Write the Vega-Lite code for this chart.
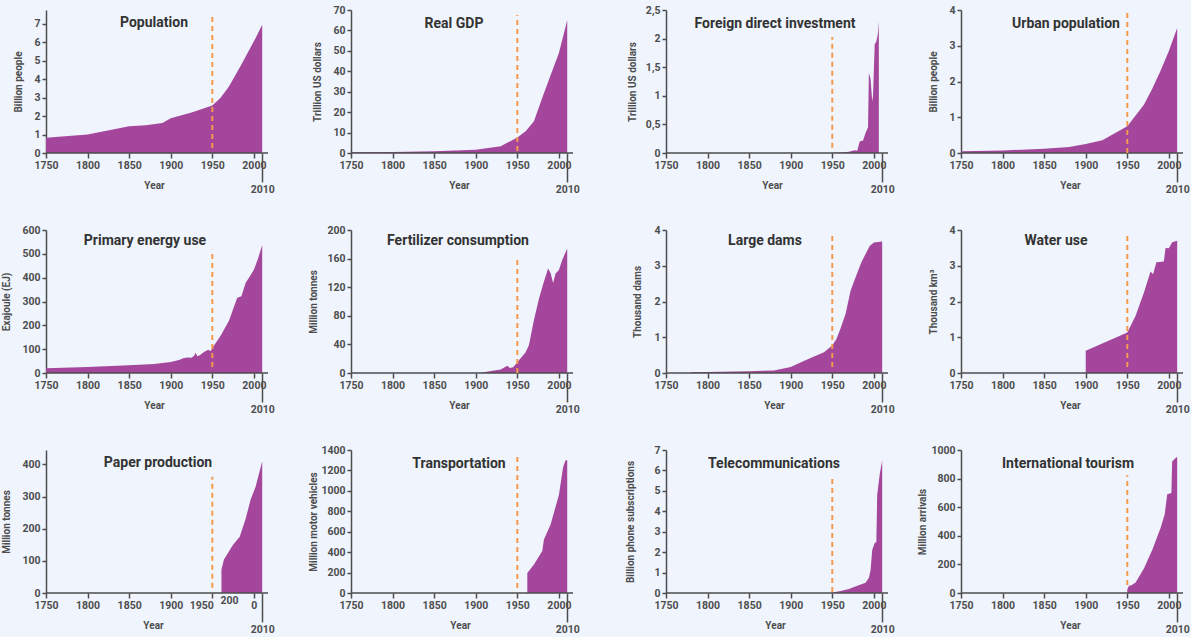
{
  "$schema": "https://vega.github.io/schema/vega-lite/v6.json",
  "background": "#eff4fd",
  "padding": {"left": 1, "top": 5, "right": 2, "bottom": 2},
  "datasets": {
    "pop": [{"year":1750,"value":0.82},{"year":1800,"value":1.0},{"year":1850,"value":1.45},{"year":1870,"value":1.5},{"year":1890,"value":1.62},{"year":1900,"value":1.88},{"year":1925,"value":2.2},{"year":1950,"value":2.58},{"year":1960,"value":3.0},{"year":1970,"value":3.6},{"year":1985,"value":4.8},{"year":2000,"value":6.05},{"year":2010,"value":6.95}],
    "gdp": [{"year":1750,"value":0.4},{"year":1800,"value":0.5},{"year":1850,"value":0.8},{"year":1900,"value":1.6},{"year":1930,"value":3.3},{"year":1950,"value":7.6},{"year":1960,"value":10.6},{"year":1970,"value":15.5},{"year":1980,"value":27},{"year":1990,"value":38},{"year":2000,"value":49},{"year":2010,"value":65}],
    "fdi": [{"year":1950,"value":0.005},{"year":1960,"value":0.01},{"year":1970,"value":0.02},{"year":1977,"value":0.05},{"year":1980,"value":0.04},{"year":1983,"value":0.2},{"year":1987,"value":0.22},{"year":1990,"value":0.35},{"year":1993,"value":0.45},{"year":1994,"value":1.4},{"year":1996,"value":1.3},{"year":1998,"value":0.9},{"year":1999,"value":1.0},{"year":2001,"value":1.9},{"year":2003,"value":1.95},{"year":2005,"value":2.1},{"year":2006,"value":2.3}],
    "urban": [{"year":1750,"value":0.05},{"year":1800,"value":0.07},{"year":1850,"value":0.12},{"year":1880,"value":0.17},{"year":1900,"value":0.25},{"year":1920,"value":0.36},{"year":1950,"value":0.75},{"year":1960,"value":1.05},{"year":1970,"value":1.35},{"year":1980,"value":1.8},{"year":1990,"value":2.3},{"year":2000,"value":2.85},{"year":2010,"value":3.5}],
    "energy": [{"year":1750,"value":20},{"year":1800,"value":25},{"year":1850,"value":32},{"year":1880,"value":38},{"year":1900,"value":46},{"year":1910,"value":55},{"year":1915,"value":62},{"year":1920,"value":65},{"year":1925,"value":64},{"year":1928,"value":72},{"year":1930,"value":85},{"year":1932,"value":70},{"year":1935,"value":75},{"year":1940,"value":88},{"year":1945,"value":98},{"year":1948,"value":92},{"year":1950,"value":105},{"year":1960,"value":156},{"year":1970,"value":219},{"year":1980,"value":316},{"year":1985,"value":322},{"year":1990,"value":378},{"year":1995,"value":405},{"year":2000,"value":433},{"year":2005,"value":480},{"year":2010,"value":537}],
    "fert": [{"year":1905,"value":0},{"year":1910,"value":1},{"year":1920,"value":3},{"year":1930,"value":5},{"year":1938,"value":10},{"year":1941,"value":7},{"year":1945,"value":8},{"year":1950,"value":15},{"year":1955,"value":22},{"year":1960,"value":29},{"year":1964,"value":39},{"year":1970,"value":74},{"year":1976,"value":104},{"year":1982,"value":128},{"year":1987,"value":146},{"year":1990,"value":140},{"year":1993,"value":126},{"year":1996,"value":139},{"year":2000,"value":144},{"year":2004,"value":158},{"year":2010,"value":174}],
    "dams": [{"year":1780,"value":0.02},{"year":1800,"value":0.03},{"year":1850,"value":0.05},{"year":1880,"value":0.07},{"year":1900,"value":0.17},{"year":1917,"value":0.35},{"year":1940,"value":0.58},{"year":1950,"value":0.77},{"year":1955,"value":0.95},{"year":1960,"value":1.25},{"year":1966,"value":1.66},{"year":1972,"value":2.3},{"year":1978,"value":2.68},{"year":1985,"value":3.1},{"year":1990,"value":3.33},{"year":1995,"value":3.55},{"year":2000,"value":3.65},{"year":2010,"value":3.68}],
    "water": [{"year":1900,"value":0.62},{"year":1950,"value":1.13},{"year":1960,"value":1.6},{"year":1970,"value":2.25},{"year":1978,"value":2.84},{"year":1981,"value":2.76},{"year":1985,"value":3.1},{"year":1994,"value":3.12},{"year":1996,"value":3.5},{"year":2000,"value":3.49},{"year":2004,"value":3.66},{"year":2010,"value":3.7}],
    "paper": [{"year":1961,"value":73},{"year":1964,"value":104},{"year":1969,"value":125},{"year":1975,"value":150},{"year":1983,"value":175},{"year":1990,"value":230},{"year":1996,"value":290},{"year":2002,"value":330},{"year":2010,"value":410}],
    "transport": [{"year":1962,"value":195},{"year":1970,"value":280},{"year":1980,"value":410},{"year":1982,"value":525},{"year":1990,"value":670},{"year":2000,"value":960},{"year":2005,"value":1230},{"year":2008,"value":1300},{"year":2010,"value":1300}],
    "telecom": [{"year":1950,"value":0.02},{"year":1960,"value":0.1},{"year":1970,"value":0.2},{"year":1980,"value":0.36},{"year":1990,"value":0.5},{"year":1994,"value":0.75},{"year":1996,"value":1.1},{"year":1998,"value":2.1},{"year":2001,"value":2.45},{"year":2003,"value":2.5},{"year":2004,"value":4.8},{"year":2007,"value":5.8},{"year":2010,"value":6.5}],
    "tourism": [{"year":1950,"value":25},{"year":1952,"value":50},{"year":1955,"value":55},{"year":1960,"value":73},{"year":1970,"value":172},{"year":1980,"value":300},{"year":1990,"value":454},{"year":1995,"value":550},{"year":1998,"value":690},{"year":2003,"value":700},{"year":2004,"value":920},{"year":2009,"value":950},{"year":2010,"value":950}]
  },
  "columns": 4,
  "align": "each",
  "bounds": "flush",
  "spacing": {"row": 77, "column": 73},
  "concat": [
    {"width":232,"height":143,"title":{"text":"Population","dx":-8,"offset":-20},"layer":[
      {"data":{"name":"pop"},"mark":{"type":"area","color":"#a4479c"},"encoding":{"x":{"field":"year","type":"quantitative","scale":{"domain":[1750,2029],"nice":false},"axis":{"title":"Year","values":[1750,1800,1850,1900,1950,2000,2010],"tickCount":50,"format":"d","domain":false,"labelFlush":false,"tickSize":{"condition":{"test":"datum.value == 2010","value":29},"value":5},"titleX":108,"titleY":27,"titleAlign":"center","titleBaseline":"top"}},"y":{"field":"value","type":"quantitative","scale":{"domain":[0,7.75],"nice":false},"axis":{"title":"Billion people","values":[0,1,2,3,4,5,6,7],"format":"d","tickCount":50,"minExtent":21,"maxExtent":21}}}},
      {"data":{"values":[{"year":1750,"year2":2017,"value":0}]},"mark":{"type":"rule","color":"#4d4d4d","strokeWidth":1.5},"encoding":{"x":{"field":"year","type":"quantitative"},"x2":{"field":"year2"},"y":{"field":"value","type":"quantitative"}}},
      {"data":{"values":[{"year":1950,"lo":0.27,"hi":7.54}]},"mark":{"type":"rule","color":"#f39a4b","strokeDash":[5,4],"strokeWidth":2},"encoding":{"x":{"field":"year","type":"quantitative"},"y":{"field":"lo","type":"quantitative"},"y2":{"field":"hi"}}}
    ]},
    {"width":242,"height":143,"title":{"text":"Real GDP","dx":-18},"layer":[
      {"data":{"name":"gdp"},"mark":{"type":"area","color":"#a4479c"},"encoding":{"x":{"field":"year","type":"quantitative","scale":{"domain":[1750,2041],"nice":false},"axis":{"title":"Year","values":[1750,1800,1850,1900,1950,2000,2010],"tickCount":50,"format":"d","domain":false,"labelFlush":false,"tickSize":{"condition":{"test":"datum.value == 2010","value":29},"value":5},"titleX":108,"titleY":27,"titleAlign":"center","titleBaseline":"top"}},"y":{"field":"value","type":"quantitative","scale":{"domain":[0,70],"nice":false},"axis":{"title":"Trillion US dollars","values":[0,10,20,30,40,50,60,70],"format":"d","tickCount":50,"minExtent":27,"maxExtent":27}}}},
      {"data":{"values":[{"year":1750,"year2":2017,"value":0}]},"mark":{"type":"rule","color":"#4d4d4d","strokeWidth":1.5},"encoding":{"x":{"field":"year","type":"quantitative"},"x2":{"field":"year2"},"y":{"field":"value","type":"quantitative"}}},
      {"data":{"values":[{"year":1950,"lo":1,"hi":67.5}]},"mark":{"type":"rule","color":"#f39a4b","strokeDash":[5,4],"strokeWidth":2},"encoding":{"x":{"field":"year","type":"quantitative"},"y":{"field":"lo","type":"quantitative"},"y2":{"field":"hi"}}}
    ]},
    {"width":222,"height":143,"title":{"text":"Foreign direct investment","dx":-2},"layer":[
      {"data":{"name":"fdi"},"mark":{"type":"area","color":"#a4479c"},"encoding":{"x":{"field":"year","type":"quantitative","scale":{"domain":[1750,2017],"nice":false},"axis":{"title":"Year","values":[1750,1800,1850,1900,1950,2000,2010],"tickCount":50,"format":"d","domain":false,"labelFlush":false,"tickSize":{"condition":{"test":"datum.value == 2010","value":29},"value":5},"titleX":106,"titleY":27,"titleAlign":"center","titleBaseline":"top"}},"y":{"field":"value","type":"quantitative","scale":{"domain":[0,2.5],"nice":false},"axis":{"title":"Trillion US dollars","values":[0,0.5,1,1.5,2,2.5],"tickCount":50,"labelExpr":"replace(format(datum.value, '~g'), '.', ',')","minExtent":27,"maxExtent":27}}}},
      {"data":{"values":[{"year":1750,"year2":2017,"value":0}]},"mark":{"type":"rule","color":"#4d4d4d","strokeWidth":1.5},"encoding":{"x":{"field":"year","type":"quantitative"},"x2":{"field":"year2"},"y":{"field":"value","type":"quantitative"}}},
      {"data":{"values":[{"year":1950,"lo":0.09,"hi":2.03}]},"mark":{"type":"rule","color":"#f39a4b","strokeDash":[5,4],"strokeWidth":2},"encoding":{"x":{"field":"year","type":"quantitative"},"y":{"field":"lo","type":"quantitative"},"y2":{"field":"hi"}}}
    ]},
    {"width":222,"height":143,"title":{"text":"Urban population","dx":-6},"layer":[
      {"data":{"name":"urban"},"mark":{"type":"area","color":"#a4479c"},"encoding":{"x":{"field":"year","type":"quantitative","scale":{"domain":[1750,2017],"nice":false},"axis":{"title":"Year","values":[1750,1800,1850,1900,1950,2000,2010],"tickCount":50,"format":"d","domain":false,"labelFlush":false,"tickSize":{"condition":{"test":"datum.value == 2010","value":29},"value":5},"titleX":109,"titleY":27,"titleAlign":"center","titleBaseline":"top"}},"y":{"field":"value","type":"quantitative","scale":{"domain":[0,4],"nice":false},"axis":{"title":"Billion people","values":[0,1,2,3,4],"format":"d","tickCount":50,"minExtent":21,"maxExtent":21}}}},
      {"data":{"values":[{"year":1750,"year2":2017,"value":0}]},"mark":{"type":"rule","color":"#4d4d4d","strokeWidth":1.5},"encoding":{"x":{"field":"year","type":"quantitative"},"x2":{"field":"year2"},"y":{"field":"value","type":"quantitative"}}},
      {"data":{"values":[{"year":1950,"lo":0,"hi":3.92}]},"mark":{"type":"rule","color":"#f39a4b","strokeDash":[5,4],"strokeWidth":2},"encoding":{"x":{"field":"year","type":"quantitative"},"y":{"field":"lo","type":"quantitative"},"y2":{"field":"hi"}}}
    ]},
    {"width":232,"height":143,"title":{"text":"Primary energy use","dx":-17,"offset":-23},"layer":[
      {"data":{"name":"energy"},"mark":{"type":"area","color":"#a4479c"},"encoding":{"x":{"field":"year","type":"quantitative","scale":{"domain":[1750,2029],"nice":false},"axis":{"title":"Year","values":[1750,1800,1850,1900,1950,2000,2010],"tickCount":50,"format":"d","domain":false,"labelFlush":false,"tickSize":{"condition":{"test":"datum.value == 2010","value":29},"value":5},"titleX":108,"titleY":27,"titleAlign":"center","titleBaseline":"top"}},"y":{"field":"value","type":"quantitative","scale":{"domain":[0,600],"nice":false},"axis":{"title":"Exajoule (EJ)","values":[0,100,200,300,400,500,600],"format":"d","tickCount":50,"minExtent":33,"maxExtent":33}}}},
      {"data":{"values":[{"year":1750,"year2":2017,"value":0}]},"mark":{"type":"rule","color":"#4d4d4d","strokeWidth":1.5},"encoding":{"x":{"field":"year","type":"quantitative"},"x2":{"field":"year2"},"y":{"field":"value","type":"quantitative"}}},
      {"data":{"values":[{"year":1950,"lo":25,"hi":517}]},"mark":{"type":"rule","color":"#f39a4b","strokeDash":[5,4],"strokeWidth":2},"encoding":{"x":{"field":"year","type":"quantitative"},"y":{"field":"lo","type":"quantitative"},"y2":{"field":"hi"}}}
    ]},
    {"width":242,"height":143,"title":{"text":"Fertilizer consumption","dx":-14,"offset":-23},"layer":[
      {"data":{"name":"fert"},"mark":{"type":"area","color":"#a4479c"},"encoding":{"x":{"field":"year","type":"quantitative","scale":{"domain":[1750,2041],"nice":false},"axis":{"title":"Year","values":[1750,1800,1850,1900,1950,2000,2010],"tickCount":50,"format":"d","domain":false,"labelFlush":false,"tickSize":{"condition":{"test":"datum.value == 2010","value":29},"value":5},"titleX":108,"titleY":27,"titleAlign":"center","titleBaseline":"top"}},"y":{"field":"value","type":"quantitative","scale":{"domain":[0,200],"nice":false},"axis":{"title":"Million tonnes","values":[0,40,80,120,160,200],"format":"d","tickCount":50,"minExtent":31,"maxExtent":31}}}},
      {"data":{"values":[{"year":1750,"year2":2017,"value":0}]},"mark":{"type":"rule","color":"#4d4d4d","strokeWidth":1.5},"encoding":{"x":{"field":"year","type":"quantitative"},"x2":{"field":"year2"},"y":{"field":"value","type":"quantitative"}}},
      {"data":{"values":[{"year":1950,"lo":0,"hi":162}]},"mark":{"type":"rule","color":"#f39a4b","strokeDash":[5,4],"strokeWidth":2},"encoding":{"x":{"field":"year","type":"quantitative"},"y":{"field":"lo","type":"quantitative"},"y2":{"field":"hi"}}}
    ]},
    {"width":222,"height":143,"title":{"text":"Large dams","dx":-12,"offset":-23},"layer":[
      {"data":{"name":"dams"},"mark":{"type":"area","color":"#a4479c"},"encoding":{"x":{"field":"year","type":"quantitative","scale":{"domain":[1750,2017],"nice":false},"axis":{"title":"Year","values":[1750,1800,1850,1900,1950,2000,2010],"tickCount":50,"format":"d","domain":false,"labelFlush":false,"tickSize":{"condition":{"test":"datum.value == 2010","value":29},"value":5},"titleX":108,"titleY":27,"titleAlign":"center","titleBaseline":"top"}},"y":{"field":"value","type":"quantitative","scale":{"domain":[0,4],"nice":false},"axis":{"title":"Thousand dams","values":[0,1,2,3,4],"format":"d","tickCount":50,"minExtent":22,"maxExtent":22}}}},
      {"data":{"values":[{"year":1750,"year2":2017,"value":0}]},"mark":{"type":"rule","color":"#4d4d4d","strokeWidth":1.5},"encoding":{"x":{"field":"year","type":"quantitative"},"x2":{"field":"year2"},"y":{"field":"value","type":"quantitative"}}},
      {"data":{"values":[{"year":1950,"lo":0.17,"hi":3.83}]},"mark":{"type":"rule","color":"#f39a4b","strokeDash":[5,4],"strokeWidth":2},"encoding":{"x":{"field":"year","type":"quantitative"},"y":{"field":"lo","type":"quantitative"},"y2":{"field":"hi"}}}
    ]},
    {"width":222,"height":143,"title":{"text":"Water use","dx":-16,"offset":-23},"layer":[
      {"data":{"name":"water"},"mark":{"type":"area","color":"#a4479c"},"encoding":{"x":{"field":"year","type":"quantitative","scale":{"domain":[1750,2017],"nice":false},"axis":{"title":"Year","values":[1750,1800,1850,1900,1950,2000,2010],"tickCount":50,"format":"d","domain":false,"labelFlush":false,"tickSize":{"condition":{"test":"datum.value == 2010","value":29},"value":5},"titleX":109,"titleY":27,"titleAlign":"center","titleBaseline":"top"}},"y":{"field":"value","type":"quantitative","scale":{"domain":[0,4],"nice":false},"axis":{"title":"Thousand km³","values":[0,1,2,3,4],"format":"d","tickCount":50,"minExtent":21,"maxExtent":21}}}},
      {"data":{"values":[{"year":1750,"year2":2017,"value":0}]},"mark":{"type":"rule","color":"#4d4d4d","strokeWidth":1.5},"encoding":{"x":{"field":"year","type":"quantitative"},"x2":{"field":"year2"},"y":{"field":"value","type":"quantitative"}}},
      {"data":{"values":[{"year":1950,"lo":0.17,"hi":3.83}]},"mark":{"type":"rule","color":"#f39a4b","strokeDash":[5,4],"strokeWidth":2},"encoding":{"x":{"field":"year","type":"quantitative"},"y":{"field":"lo","type":"quantitative"},"y2":{"field":"hi"}}}
    ]},
    {"width":232,"height":143,"title":{"text":"Paper production","dx":-4,"offset":-20},"layer":[
      {"data":{"name":"paper"},"mark":{"type":"area","color":"#a4479c"},"encoding":{"x":{"field":"year","type":"quantitative","scale":{"domain":[1750,2029],"nice":false},"axis":{"title":"Year","values":[1750,1800,1850,1900,1950,1970,2000,2010],"tickCount":50,"labelExpr":"datum.value == 2000 ? '0' : datum.value == 1970 ? '200' : format(datum.value, 'd')","labelOffset":{"condition":{"test":"datum.value == 1950","value":-11},"value":0},"domain":false,"labelFlush":false,"tickSize":{"condition":[{"test":"datum.value == 2010","value":29},{"test":"datum.value == 1970","value":0}],"value":5},"titleX":107,"titleY":27,"titleAlign":"center","titleBaseline":"top"}},"y":{"field":"value","type":"quantitative","scale":{"domain":[0,445],"nice":false},"axis":{"title":"Million tonnes","values":[0,100,200,300,400],"format":"d","tickCount":50,"minExtent":33,"maxExtent":33}}}},
      {"data":{"values":[{"year":1750,"year2":2017,"value":0}]},"mark":{"type":"rule","color":"#4d4d4d","strokeWidth":1.5},"encoding":{"x":{"field":"year","type":"quantitative"},"x2":{"field":"year2"},"y":{"field":"value","type":"quantitative"}}},
      {"data":{"values":[{"year":1950,"lo":16,"hi":362}]},"mark":{"type":"rule","color":"#f39a4b","strokeDash":[5,4],"strokeWidth":2},"encoding":{"x":{"field":"year","type":"quantitative"},"y":{"field":"lo","type":"quantitative"},"y2":{"field":"hi"}}}
    ]},
    {"width":242,"height":143,"title":{"text":"Transportation","dx":-13},"layer":[
      {"data":{"name":"transport"},"mark":{"type":"area","color":"#a4479c"},"encoding":{"x":{"field":"year","type":"quantitative","scale":{"domain":[1750,2041],"nice":false},"axis":{"title":"Year","values":[1750,1800,1850,1900,1950,2000,2010],"tickCount":50,"format":"d","domain":false,"labelFlush":false,"tickSize":{"condition":{"test":"datum.value == 2010","value":29},"value":5},"titleX":109,"titleY":27,"titleAlign":"center","titleBaseline":"top"}},"y":{"field":"value","type":"quantitative","scale":{"domain":[0,1400],"nice":false},"axis":{"title":"Million motor vehicles","values":[0,200,400,600,800,1000,1200,1400],"format":"d","tickCount":50,"minExtent":31,"maxExtent":31}}}},
      {"data":{"values":[{"year":1750,"year2":2017,"value":0}]},"mark":{"type":"rule","color":"#4d4d4d","strokeWidth":1.5},"encoding":{"x":{"field":"year","type":"quantitative"},"x2":{"field":"year2"},"y":{"field":"value","type":"quantitative"}}},
      {"data":{"values":[{"year":1950,"lo":49,"hi":1341}]},"mark":{"type":"rule","color":"#f39a4b","strokeDash":[5,4],"strokeWidth":2},"encoding":{"x":{"field":"year","type":"quantitative"},"y":{"field":"lo","type":"quantitative"},"y2":{"field":"hi"}}}
    ]},
    {"width":222,"height":143,"title":{"text":"Telecommunications","dx":-3},"layer":[
      {"data":{"name":"telecom"},"mark":{"type":"area","color":"#a4479c"},"encoding":{"x":{"field":"year","type":"quantitative","scale":{"domain":[1750,2017],"nice":false},"axis":{"title":"Year","values":[1750,1800,1850,1900,1950,2000,2010],"tickCount":50,"format":"d","domain":false,"labelFlush":false,"tickSize":{"condition":{"test":"datum.value == 2010","value":29},"value":5},"titleX":109,"titleY":27,"titleAlign":"center","titleBaseline":"top"}},"y":{"field":"value","type":"quantitative","scale":{"domain":[0,7],"nice":false},"axis":{"title":"Billion phone subscriptions","values":[0,1,2,3,4,5,6,7],"format":"d","tickCount":50,"minExtent":29,"maxExtent":29}}}},
      {"data":{"values":[{"year":1750,"year2":2017,"value":0}]},"mark":{"type":"rule","color":"#4d4d4d","strokeWidth":1.5},"encoding":{"x":{"field":"year","type":"quantitative"},"x2":{"field":"year2"},"y":{"field":"value","type":"quantitative"}}},
      {"data":{"values":[{"year":1950,"lo":0.05,"hi":5.73}]},"mark":{"type":"rule","color":"#f39a4b","strokeDash":[5,4],"strokeWidth":2},"encoding":{"x":{"field":"year","type":"quantitative"},"y":{"field":"lo","type":"quantitative"},"y2":{"field":"hi"}}}
    ]},
    {"width":222,"height":143,"title":{"text":"International tourism","dx":-4},"layer":[
      {"data":{"name":"tourism"},"mark":{"type":"area","color":"#a4479c"},"encoding":{"x":{"field":"year","type":"quantitative","scale":{"domain":[1750,2017],"nice":false},"axis":{"title":"Year","values":[1750,1800,1850,1900,1950,2000,2010],"tickCount":50,"format":"d","domain":false,"labelFlush":false,"tickSize":{"condition":{"test":"datum.value == 2010","value":29},"value":5},"titleX":109,"titleY":27,"titleAlign":"center","titleBaseline":"top"}},"y":{"field":"value","type":"quantitative","scale":{"domain":[0,1000],"nice":false},"axis":{"title":"Million arrivals","values":[0,200,400,600,800,1000],"format":"d","tickCount":50,"minExtent":32,"maxExtent":32}}}},
      {"data":{"values":[{"year":1750,"year2":2017,"value":0}]},"mark":{"type":"rule","color":"#4d4d4d","strokeWidth":1.5},"encoding":{"x":{"field":"year","type":"quantitative"},"x2":{"field":"year2"},"y":{"field":"value","type":"quantitative"}}},
      {"data":{"values":[{"year":1950,"lo":56,"hi":824}]},"mark":{"type":"rule","color":"#f39a4b","strokeDash":[5,4],"strokeWidth":2},"encoding":{"x":{"field":"year","type":"quantitative"},"y":{"field":"lo","type":"quantitative"},"y2":{"field":"hi"}}}
    ]}
  ],
  "config": {
    "view": {"stroke": null},
    "font": "Roboto",
    "axis": {"grid": false, "tickCount": 50, "domainColor": "#4d4d4d", "domainWidth": 1.5, "tickColor": "#4d4d4d", "tickWidth": 1.5, "labelColor": "#4d4d4d", "labelFont": "Roboto", "labelFontSize": 10.5, "labelFontWeight": "bold", "labelOverlap": false, "titleColor": "#4d4d4d", "titleFont": "Roboto", "titleFontSize": 10, "titleFontWeight": "bold"},
    "axisY": {"tickSize": 4, "labelPadding": 2, "titlePadding": 2},
    "title": {"fontSize": 14, "fontWeight": "bold", "color": "#333333", "anchor": "middle", "frame": "group", "offset": -26, "baseline": "middle", "font": "Roboto"}
  }
}
